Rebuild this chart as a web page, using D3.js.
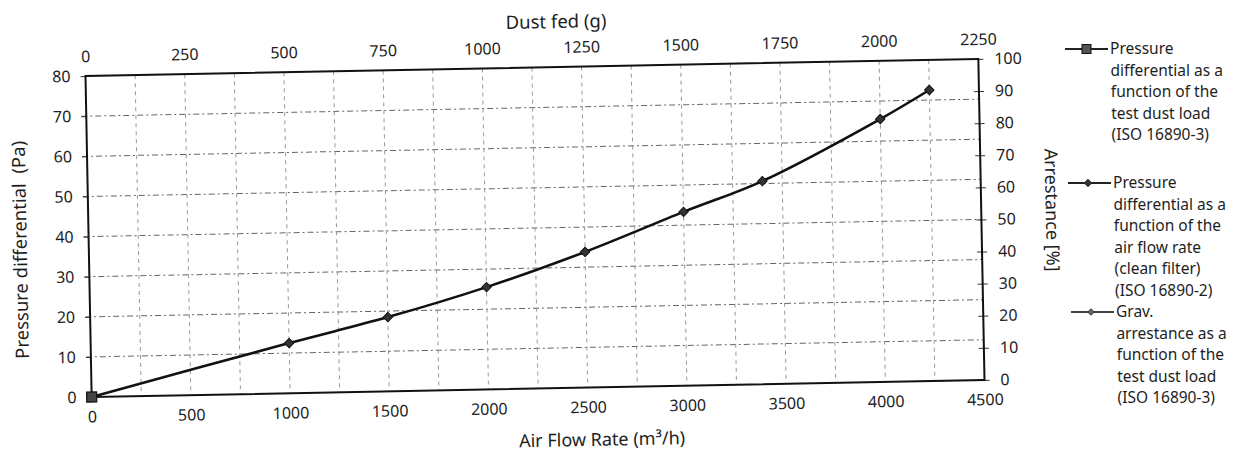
<!DOCTYPE html>
<html><head><meta charset="utf-8">
<script src="https://cdn.jsdelivr.net/npm/d3@7"></script>
<style>
body{margin:0;background:#fff}
svg{display:block}
text{font-family:'Noto Sans',sans-serif;fill:#1e1e1e;white-space:pre}
</style>
</head><body>
<svg id="c" width="1239" height="455"></svg>
<script>
// ---- data ----
const airFlow = [0, 1000, 1500, 2000, 2500, 3000, 3400, 4000, 4250];
const pressureFlow = [0, 12.5, 18.5, 25.5, 33.8, 43.3, 50.6, 65.5, 72.5];
const dustFed = [0];
const pressureDust = [0];
const dustFedArr = [];
const arrestance = [];
const xTicks = [0, 500, 1000, 1500, 2000, 2500, 3000, 3500, 4000, 4500];
const topTicks = [0, 250, 500, 750, 1000, 1250, 1500, 1750, 2000, 2250];
const leftTicks = [0, 10, 20, 30, 40, 50, 60, 70, 80];
const rightTicks = [0, 10, 20, 30, 40, 50, 60, 70, 80, 90, 100];
const gridX = [250, 500, 750, 1000, 1250, 1500, 1750, 2000, 2250, 2500, 2750, 3000, 3250, 3500, 3750, 4000, 4250];
const gridY = [10, 20, 30, 40, 50, 60, 70];
const legendLabels = [
  ["Pressure", "differential as a", "function of the", "test dust load", "(ISO 16890-3)"],
  ["Pressure", "differential as a", "function of the", "air flow rate", "(clean filter)", "(ISO 16890-2)"],
  ["Grav.", "arrestance as a", "function of the", "test dust load", "(ISO 16890-3)"]
];

// ---- layout ----
const L = 88.5, T = 67.5, PW = 893, PH = 321;
const svg = d3.select("#c");
const g = svg.append("g").attr("transform", "rotate(-1.1,535,228)");

const x = d3.scaleLinear().domain([0, 4500]).range([L, L + PW]);
const xTop = d3.scaleLinear().domain([0, 2250]).range([L, L + PW]);
const y = d3.scaleLinear().domain([0, 80]).range([T + PH, T]);
const yR = d3.scaleLinear().domain([0, 100]).range([T + PH, T]);

// gridlines
g.append("g").selectAll("line").data(gridY).join("line")
  .attr("x1", L - 5).attr("x2", L + PW).attr("y1", d => y(d)).attr("y2", d => y(d))
  .attr("stroke", "#666").attr("stroke-width", 1).attr("stroke-dasharray", "6,3,2,3");
g.append("g").selectAll("line").data(gridX).join("line")
  .attr("x1", d => x(d)).attr("x2", d => x(d)).attr("y1", T).attr("y2", T + PH)
  .attr("stroke", "#999").attr("stroke-width", 1).attr("stroke-dasharray", "4,4");

const fs = "16px";
function styleAxis(sel) {
  sel.select(".domain").remove();
  sel.selectAll("line").attr("stroke", "#333");
  sel.selectAll("text").style("font-size", fs).attr("fill", "#1e1e1e");
}
g.append("g").attr("transform", `translate(${L},0)`)
  .call(d3.axisLeft(y).tickValues(leftTicks).tickSize(5).tickPadding(10).tickFormat(d3.format("d")))
  .call(styleAxis);
g.append("g").attr("transform", `translate(0,${T + PH})`)
  .call(d3.axisBottom(x).tickValues(xTicks).tickSize(0).tickPadding(14).tickFormat(d3.format("d")))
  .call(styleAxis);
g.append("g").attr("transform", `translate(0,${T})`)
  .call(d3.axisTop(xTop).tickValues(topTicks).tickSize(0).tickPadding(14).tickFormat(d3.format("d")))
  .call(styleAxis);
g.append("g").attr("transform", `translate(${L + PW},0)`)
  .call(d3.axisRight(yR).tickValues(rightTicks).tickSize(5).tickPadding(11).tickFormat(d3.format("d")))
  .call(styleAxis);
g.append("g").attr("transform", `translate(${L + PW},0)`)
  .call(d3.axisRight(yR).tickValues(rightTicks).tickSize(-5).tickFormat(""))
  .call(styleAxis);

// frame
g.append("rect").attr("x", L).attr("y", T).attr("width", PW).attr("height", PH)
  .attr("fill", "none").attr("stroke", "#111").attr("stroke-width", 2);

// axis titles
g.append("text").attr("transform", "translate(19,240) rotate(-90)")
  .attr("text-anchor", "middle").attr("dominant-baseline", "central")
  .style("font-size", "18.5px").text("Pressure differential  (Pa)");
g.append("text").attr("x", 598).attr("y", 440).attr("text-anchor", "middle")
  .attr("dominant-baseline", "central").style("font-size", "18px").text("Air Flow Rate (m³/h)");
g.append("text").attr("x", 560).attr("y", 21).attr("text-anchor", "middle")
  .attr("dominant-baseline", "central").style("font-size", "18.5px").text("Dust fed (g)");
g.append("text").attr("transform", "translate(1053,220) rotate(90)")
  .attr("text-anchor", "middle").attr("dominant-baseline", "central")
  .style("font-size", "18px").text("Arrestance [%]");

// series
const flowData = airFlow.map((d, i) => [d, pressureFlow[i]]);
const line = d3.line().x(d => x(d[0])).y(d => y(d[1])).curve(d3.curveCatmullRom.alpha(0.5));
g.append("path").datum(flowData).attr("d", line)
  .attr("fill", "none").attr("stroke", "#111").attr("stroke-width", 2.6);
g.append("g").selectAll("path").data(flowData).join("path")
  .attr("transform", d => `translate(${x(d[0])},${y(d[1])}) rotate(45)`)
  .attr("d", d3.symbol().type(d3.symbolSquare).size(45))
  .attr("fill", "#333").attr("stroke", "#111").attr("stroke-width", 1);

const dustData = dustFed.map((d, i) => [d, pressureDust[i]]);
g.append("g").selectAll("rect").data(dustData).join("rect")
  .attr("x", d => xTop(d[0]) - 5).attr("y", d => y(d[1]) - 5)
  .attr("width", 10).attr("height", 10)
  .attr("fill", "#444").attr("stroke", "#111").attr("stroke-width", 1.2);

const arrData = dustFedArr.map((d, i) => [d, arrestance[i]]);
g.append("g").selectAll("path").data(arrData).join("path")
  .attr("transform", d => `translate(${xTop(d[0])},${yR(d[1])}) rotate(45)`)
  .attr("d", d3.symbol().type(d3.symbolSquare).size(25)).attr("fill", "#777");

// legend (screen frame, offsets follow the scan's slight tilt)
const legPos = [[1065, 49], [1068, 183], [1071, 312]];
const leg = svg.append("g");
legendLabels.forEach((lines, i) => {
  const [lx, yy] = legPos[i];
  leg.append("line").attr("x1", lx).attr("x2", lx + 43).attr("y1", yy).attr("y2", yy)
    .attr("stroke", i === 2 ? "#444" : "#222").attr("stroke-width", 2.2);
  if (i === 0) {
    leg.append("rect").attr("x", lx + 17).attr("y", yy - 4.5).attr("width", 9).attr("height", 9)
      .attr("fill", "#555").attr("stroke", "#111");
  } else {
    leg.append("path").attr("transform", `translate(${lx + 20},${yy}) rotate(45)`)
      .attr("d", d3.symbol().type(d3.symbolSquare).size(i === 1 ? 30 : 22))
      .attr("fill", i === 1 ? "#333" : "#666").attr("stroke", "#222").attr("stroke-width", 0.8);
  }
  lines.forEach((s, j) => {
    leg.append("text").attr("x", lx + 45 + j * 0.4).attr("y", yy + j * 21.5).attr("dy", "0.35em")
      .style("font-size", "15.5px").text(s);
  });
});
</script>
</body></html>
